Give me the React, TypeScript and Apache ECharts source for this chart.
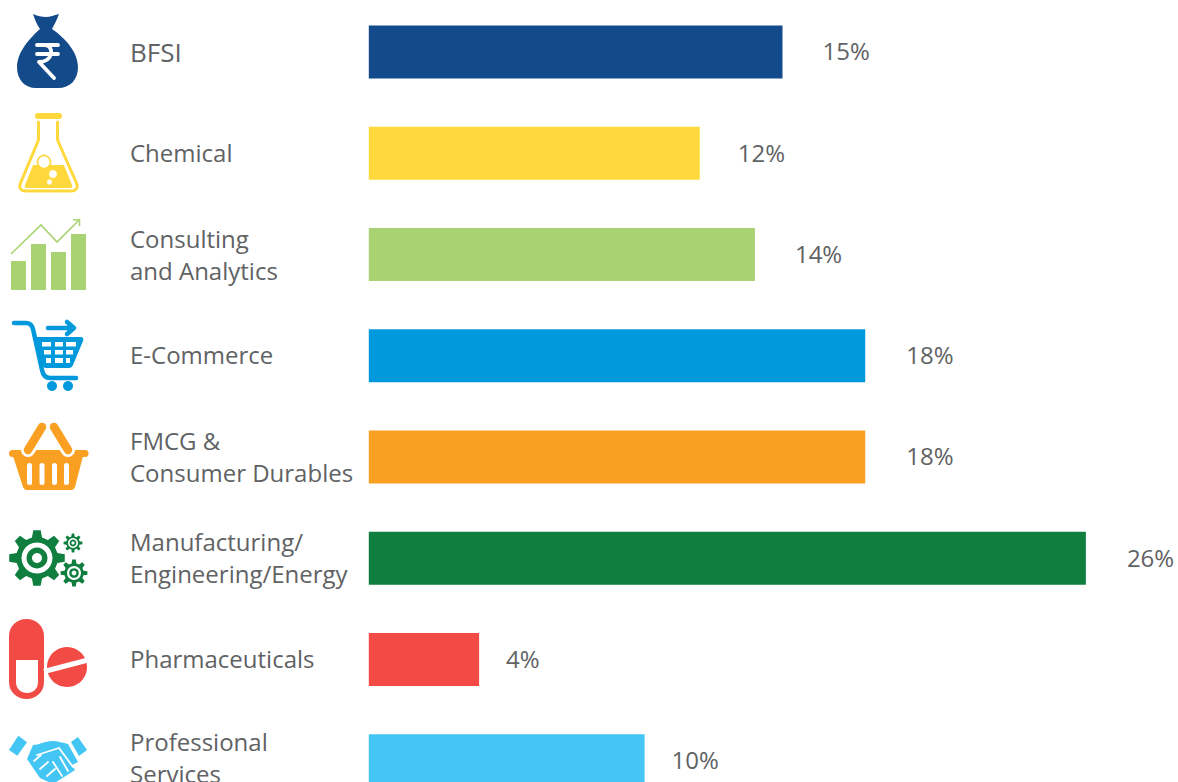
import React, { useEffect, useRef } from "react";
import * as echarts from "echarts";

const categories = [
  "BFSI",
  "Chemical",
  "Consulting\nand Analytics",
  "E-Commerce",
  "FMCG &\nConsumer Durables",
  "Manufacturing/\nEngineering/Energy",
  "Pharmaceuticals",
  "Professional\nServices",
];
const values = [15, 12, 14, 18, 18, 26, 4, 10];
const barColors = ["#134a8a", "#ffd93b", "#a9d372", "#0099dc", "#f9a023", "#0f7e3f", "#f24a44", "#43c6f3"];
const labelGaps = [40, 38, 40, 41, 41, 41, 27, 27];
const labelLift = [0, 2, 0, 2, 0, 2, 2, 6];

const FONT = "'Open Sans', sans-serif";
const TEXT = "#616264";
const WHITE = "#ffffff";

const shapes: Record<string, string> = {
  iconBag:
    "M33 14 C37 16 42 17 46 17 C50 17 54 15 59 14 C57 20 54 25 52 29 C65 38 78 52 78 67 C78 80 70 88 58 88 L36 88 C25 88 17 80 17 67 C17 52 30 38 40 29 C37 25 35 20 33 14 Z",
  iconRupee: "M37 45 L58 45 M37 54 L58 54 M45 45 C54 45 54 62 39 62 L54 78",
  iconFlask: "M38.5 122 L38.5 140 L21 182 C18 188 21 191 26 191 L71 191 C76 191 79 188 76 182 L57.5 140 L57.5 122",
  iconLiquid: "M33 165 L64 165 L72 185 C73 187 72 188 70 188 L27 188 C25 188 24 187 25 185 Z",
  iconCartRail: "M14 323 L26 323 C30 323 32 325 33 329 L42 370 C43 375 45 378 50 378 L76 378",
  iconCartBody: "M34 337 L81 337 C83 337 84 339 83 341 L73 365 C72 367 71 368 69 368 L46 368 C44 368 43 367 43 365 Z",
  iconArrow: "M48 328 L72 328 M67 322 L74 328 L67 334",
  iconBasketBody: "M13 456 L30 456 C32 448 64 448 66 456 L83 456 L75 487 C74 489 73 490 71 490 L27 490 C25 490 24 489 23 487 Z",
  iconCapsule: "M9 636 C9 626 17 619 26.5 619 C36 619 44 626 44 636 L44 682 C44 692 36 699 26.5 699 C17 699 9 692 9 682 Z",
  iconCapsuleHole: "M16 660 L38 660 L38 682 C38 689 33 693 27 693 C21 693 16 689 16 682 Z",
  iconHands:
    "M33 745 C39 745 45 741 52 741 C58 741 63 743 68 744 L78 762 L72 765 L75 770 L53 784 L40 778 L27 759 Z",
  iconFingers: "M37 755 L59 748 L73 767 M34 761 L41 755 M40 769 L48 762 M47 776 L55 769 M60 757 L68 771 M53 762 L62 776",
};
Object.entries(shapes).forEach(([name, d]) => {
  echarts.graphic.registerShape(name, echarts.graphic.extendPath(d as any, {} as any) as any);
});

const gearPoints = (cx: number, cy: number, outer: number, body: number, teeth: number) => {
  const pts: number[][] = [];
  const step = (Math.PI * 2) / teeth;
  for (let i = 0; i < teeth; i++) {
    const a = i * step - Math.PI / 2;
    [[-0.5, body], [-0.27, outer], [0.27, outer], [0.5, body]].forEach(([k, r]) => {
      pts.push([cx + r * Math.cos(a + k * step * 0.62), cy + r * Math.sin(a + k * step * 0.62)]);
    });
  }
  return pts;
};

const fillShape = (type: string, fill: string) => ({ type, silent: true, style: { fill } });
const strokeShape = (type: string, stroke: string, lineWidth: number) => ({
  type,
  silent: true,
  style: { fill: "none", stroke, lineWidth, lineCap: "round", lineJoin: "round" },
});
const rect = (x: number, y: number, width: number, height: number, fill: string, r = 0) => ({
  type: "rect",
  silent: true,
  shape: { x, y, width, height, r },
  style: { fill },
});
const circle = (cx: number, cy: number, r: number, fill: string, stroke?: string, lineWidth?: number) => ({
  type: "circle",
  silent: true,
  shape: { cx, cy, r },
  style: { fill, stroke, lineWidth },
});
const seg = (x1: number, y1: number, x2: number, y2: number, stroke: string, lineWidth: number, cap = "round") => ({
  type: "line",
  silent: true,
  shape: { x1, y1, x2, y2 },
  style: { stroke, lineWidth, lineCap: cap },
});
const poly = (points: number[][], fill: string) => ({
  type: "polygon",
  silent: true,
  shape: { points },
  style: { fill },
});
const gear = (cx: number, cy: number, outer: number, body: number, teeth: number, rings: number[], color: string) => [
  poly(gearPoints(cx, cy, outer, body, teeth), color),
  circle(cx, cy, rings[0], WHITE),
  circle(cx, cy, rings[1], color),
  circle(cx, cy, rings[2], WHITE),
];

const icons = () => {
  const [navy, yellow, lime, blue, orange, green, red, cyan] = barColors;
  const cells: any[] = [];
  [
    [342, 4.5, 42, 51, 55, 63, 66, 76],
    [350, 4.5, 44, 51, 55, 63, 66, 73],
    [358, 5, 46, 51, 55, 63, 66, 70],
  ].forEach(([y, h, a, b, c, d, e, f]) => {
    cells.push(rect(a, y, b - a, h, WHITE), rect(c, y, d - c, h, WHITE), rect(e, y, f - e, h, WHITE));
  });
  return [
    fillShape("iconBag", navy),
    strokeShape("iconRupee", WHITE, 3.8),

    rect(35, 113, 27, 6, yellow, 3),
    strokeShape("iconFlask", yellow, 3),
    fillShape("iconLiquid", yellow),
    circle(44, 162, 6.5, WHITE, yellow, 1.6),
    circle(53, 174, 4, WHITE),
    circle(49.5, 182, 2.6, WHITE),

    rect(11, 261, 15, 29, lime),
    rect(31, 244, 15, 46, lime),
    rect(51, 252, 15, 38, lime),
    rect(71, 234, 15, 56, lime),
    { type: "polyline", silent: true, shape: { points: [[11, 254], [41, 225], [57, 242], [79, 220]] }, style: { fill: "none", stroke: lime, lineWidth: 1.6 } },
    { type: "polyline", silent: true, shape: { points: [[73, 220], [79.5, 219.5], [79.5, 226]] }, style: { fill: "none", stroke: lime, lineWidth: 1.6 } },

    strokeShape("iconCartRail", blue, 4.5),
    fillShape("iconCartBody", blue),
    ...cells,
    strokeShape("iconArrow", blue, 4.5),
    circle(52, 386, 5, blue),
    circle(68, 386, 5, blue),

    fillShape("iconBasketBody", orange),
    seg(12.5, 453.5, 85, 453.5, orange, 7),
    seg(28, 450, 42, 427, WHITE, 14),
    seg(68, 450, 54, 427, WHITE, 14),
    seg(28, 450, 42, 427, orange, 8.5),
    seg(68, 450, 54, 427, orange, 8.5),
    rect(27, 463, 5, 22, WHITE, 2.5),
    rect(39.5, 463, 5, 22, WHITE, 2.5),
    rect(52, 463, 5, 22, WHITE, 2.5),
    rect(64, 463, 5, 22, WHITE, 2.5),

    ...gear(37, 558, 28, 21, 8, [15.5, 10.5, 5], green),
    ...gear(73, 543, 9.5, 6.8, 8, [5, 3.4, 1.6], green),
    ...gear(74, 573, 13.5, 9.8, 8, [7, 4.8, 2.4], green),

    fillShape("iconCapsule", red),
    fillShape("iconCapsuleHole", WHITE),
    circle(67, 667, 20, red),
    seg(44, 671.5, 90, 659.5, WHITE, 5, "butt"),

    poly([[18.3, 735.7], [27, 742.3], [17.3, 755.7], [9, 750]], cyan),
    poly([[78, 737], [87, 750], [79, 756], [71, 742]], cyan),
    fillShape("iconHands", cyan),
    strokeShape("iconFingers", WHITE, 1.8),
  ];
};

const categoryText = (value: string, i: number) => {
  const key = i === 0 ? "big" : "txt";
  const lines = value.split("\n").map((line) => `{${key}|${line}}`);
  if (labelLift[i]) lines.push(`{lift${labelLift[i]}| }`);
  return lines.join("\n");
};

export default function App() {
  const ref = useRef<HTMLDivElement>(null);
  useEffect(() => {
    const chart = echarts.init(ref.current!, undefined, { renderer: "svg" });
    const txt = { color: TEXT, fontFamily: FONT, fontSize: 24, lineHeight: 32 };
    chart.setOption({
      animation: false,
      backgroundColor: "#ffffff",
      grid: { left: 368.8, top: 1.3, width: 827.4, height: 810, containLabel: false, outerBoundsMode: "none" },
      xAxis: { type: "value", min: 0, max: 30, show: false },
      yAxis: {
        type: "category",
        inverse: true,
        data: categories,
        axisLine: { show: false },
        axisTick: { show: false },
        axisLabel: {
          color: TEXT,
          fontFamily: FONT,
          fontSize: 24,
          lineHeight: 32,
          align: "left",
          margin: 238.8,
          formatter: (value: string, i: number) => categoryText(value, i),
          rich: {
            txt,
            big: { ...txt, fontSize: 26 },
            lift2: { fontSize: 1, lineHeight: 2 },
            lift6: { fontSize: 1, lineHeight: 6 },
          },
        },
      },
      graphic: { elements: icons() },
      series: [
        {
          type: "bar",
          barWidth: 53,
          data: values.map((value, i) => ({
            value,
            itemStyle: { color: barColors[i] },
            label: {
              show: true,
              position: "right",
              distance: labelGaps[i],
              offset: [0, -1],
              formatter: "{c}%",
              color: TEXT,
              fontFamily: FONT,
              fontSize: 24,
            },
          })),
        },
      ],
    });
    return () => chart.dispose();
  }, []);
  return (
    <div style={{ position: "absolute", left: 0, top: 0, width: 1178, height: 782, overflow: "hidden" }}>
      <div ref={ref} style={{ width: 1220, height: 830 }} />
    </div>
  );
}
